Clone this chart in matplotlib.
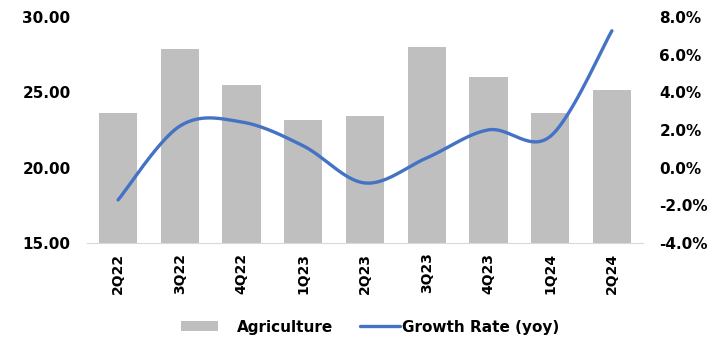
import numpy as np
import matplotlib.pyplot as plt

quarters = ['2Q22', '3Q22', '4Q22', '1Q23', '2Q23', '3Q23', '4Q23', '1Q24', '2Q24']
agriculture = [23.63, 27.88, 25.49, 23.17, 23.43, 28.0, 26.0, 23.63, 25.16]
growth = [-1.72, 2.2, 2.42, 1.15, -0.82, 0.51, 2.0, 1.65, 7.26]


def smooth(x, y, n=30):
    # Excel-like smoothed line (Catmull-Rom through the points)
    x = np.asarray(x, float)
    y = np.asarray(y, float)
    px = np.concatenate([[x[0]], x, [x[-1]]])
    py = np.concatenate([[y[0]], y, [y[-1]]])
    xs, ys = [], []
    t = np.linspace(0, 1, n)
    for i in range(1, len(px) - 2):
        p0, p1, p2, p3 = (np.array([px[j], py[j]]) for j in range(i - 1, i + 3))
        c1 = p1 + (p2 - p0) / 6
        c2 = p2 - (p3 - p1) / 6
        b = ((1 - t) ** 3)[:, None] * p1 + (3 * (1 - t) ** 2 * t)[:, None] * c1 \
            + (3 * (1 - t) * t ** 2)[:, None] * c2 + (t ** 3)[:, None] * p2
        xs.extend(b[:, 0])
        ys.extend(b[:, 1])
    return xs, ys


plt.rcParams['font.family'] = 'DejaVu Sans'
plt.rcParams['font.weight'] = 'bold'

fig = plt.figure(figsize=(7.15, 3.44), dpi=100)
ax = fig.add_axes([0.122, 0.294, 0.777, 0.657])
pos = np.arange(len(quarters))
bars = ax.bar(pos, agriculture, width=0.62, color='#BFBFBF', label='Agriculture', zorder=2)
ax.set_ylim(15, 30)
ax.set_yticks([15, 20, 25, 30])
ax.set_yticklabels(['%.2f' % v for v in [15, 20, 25, 30]])
ax.set_xlim(-0.5, len(quarters) - 0.5)
ax.set_xticks(pos)
ax.set_xticklabels(quarters, rotation=90)
for s in ['top', 'right', 'left']:
    ax.spines[s].set_visible(False)
ax.spines['bottom'].set_color('#D9D9D9')
ax.tick_params(axis='x', length=0, labelsize=10, pad=7)
ax.tick_params(axis='y', length=0, labelsize=11, pad=12)

ax2 = ax.twinx()
sx, sy = smooth(pos, growth)
line, = ax2.plot(sx, sy, color='#4472C4', lw=2.4, solid_capstyle='round', label='Growth Rate (yoy)', zorder=3)
ax2.set_ylim(-4, 8)
ax2.set_yticks(np.arange(-4, 9, 2))
ax2.set_yticklabels(['%.1f%%' % v for v in np.arange(-4, 9, 2)])
for s in ax2.spines.values():
    s.set_visible(False)
ax2.tick_params(length=0, labelsize=11, pad=12)

leg1 = fig.legend([bars], ['Agriculture'], loc='center left', bbox_to_anchor=(181 / 715, 0.049),
                  frameon=False, fontsize=11, borderpad=0, borderaxespad=0,
                  handlelength=2.4, handleheight=0.6, handletextpad=1.25)
leg2 = fig.legend([line], ['Growth Rate (yoy)'], loc='center left', bbox_to_anchor=(360 / 715, 0.049),
                  frameon=False, fontsize=11, borderpad=0, borderaxespad=0,
                  handlelength=2.6, handletextpad=0.15)

fig.savefig('out.png', dpi=100)
